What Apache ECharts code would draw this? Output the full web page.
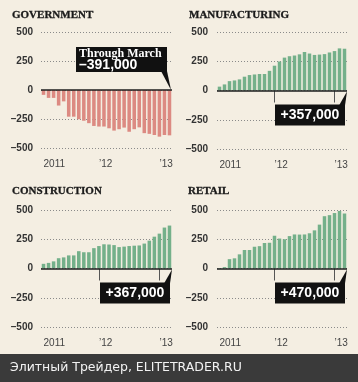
<!DOCTYPE html>
<html><head><meta charset="utf-8">
<script src="https://cdn.jsdelivr.net/npm/echarts@6/dist/echarts.min.js"></script>
<style>html,body{margin:0;padding:0;background:#f4eee2}#c{width:358px;height:382px}</style>
</head><body><div id="c"></div><script>
// ---- data (thousands of jobs, cumulative change since Jan 2011) ----
const months = ['2011-02','2011-03','2011-04','2011-05','2011-06','2011-07','2011-08','2011-09','2011-10','2011-11','2011-12',
  '2012-01','2012-02','2012-03','2012-04','2012-05','2012-06','2012-07','2012-08','2012-09','2012-10','2012-11','2012-12',
  '2013-01','2013-02','2013-03'];
const government = [-42,-68,-68,-134,-98,-230,-230,-252,-265,-286,-310,-315,-315,-330,-350,-338,-324,-360,-338,-322,-372,-378,-388,-402,-388,-391];
const manufacturing = [33,52,80,86,95,118,132,137,141,141,168,212,248,281,293,299,309,329,316,304,307,311,325,337,360,357];
const construction = [40,48,61,88,95,112,112,148,139,139,174,192,207,205,200,183,187,192,195,197,213,238,272,298,350,367];
const retail = [4,12,80,87,121,158,158,186,191,218,220,280,256,250,277,291,290,291,301,326,375,447,456,474,492,470];
const titles = ['GOVERNMENT','MANUFACTURING','CONSTRUCTION','RETAIL'];
const yearLabels = {'2011-02':'2011','2012-01':'\u201912','2013-01':'\u201913'};
const yearTicks = ['2012-01','2013-01'];
const yTickValues = [-500,-250,0,250,500];
const calloutHeads = ['Through March','','',''];
const footerText = 'Элитный Трейдер, ELITETRADER.RU';

// ---- layout / style ----
const seriesData = [government, manufacturing, construction, retail];
const barColors = ['#dc8a82','#74b08a','#74b08a','#74b08a'];
const gridBoxes = [
  {left:41, top:32, width:131, height:116},
  {left:217, top:32, width:130, height:117},
  {left:41, top:210, width:131, height:117},
  {left:217, top:210, width:130, height:117}
];
const titlePos = [{left:12, top:10},{left:189, top:10},{left:12, top:186},{left:188, top:186}];

const fmtY = v => v < 0 ? '\u2013' + Math.abs(v) : String(v);
const fmtCallout = v => (v < 0 ? '\u2013' : '+') + Math.abs(v * 1000).toLocaleString('en-US');

const chart = echarts.init(document.getElementById('c'), null, {renderer:'canvas'});
const option = {
  backgroundColor: '#f4eee2',
  animation: false,
  title: titles.map((t, i) => ({
    text: t, left: titlePos[i].left, top: titlePos[i].top, padding: 0,
    textStyle: {fontFamily: 'Liberation Serif', fontWeight: 'bold', fontSize: 11, color: '#1a1a1a',
      textBorderColor: '#1a1a1a', textBorderWidth: 0.3}
  })),
  grid: gridBoxes,
  xAxis: gridBoxes.map((g, i) => ({
    type: 'category', gridIndex: i, data: months,
    axisLine: {show: false},
    axisTick: {show: true, alignWithLabel: true, length: 12,
      interval: (idx, val) => yearTicks.includes(val),
      lineStyle: {color: '#555', width: 1}},
    axisLabel: {interval: (idx, val) => val in yearLabels, formatter: v => yearLabels[v] || '',
      align: 'left', margin: 11, fontFamily: 'Liberation Sans', fontSize: 10, color: '#444'},
    splitLine: {show: false}
  })),
  yAxis: gridBoxes.map((g, i) => ({
    type: 'value', gridIndex: i, min: yTickValues[0], max: yTickValues[yTickValues.length-1],
    interval: yTickValues[1] - yTickValues[0],
    axisLine: {show: false}, axisTick: {show: false},
    axisLabel: {formatter: fmtY, margin: i % 2 ? 9 : 8, fontFamily: 'Liberation Sans', fontWeight: 'bold', fontSize: 10, color: '#333'},
    splitLine: {show: true, lineStyle: {type: [1, 2], color: '#8a8a8a', width: 1}}
  })),
  series: seriesData.map((d, i) => ({
    type: 'bar', xAxisIndex: i, yAxisIndex: i, data: d,
    barCategoryGap: '30%',
    itemStyle: {color: barColors[i]},
    markLine: {silent: true, symbol: 'none', label: {show: false},
      lineStyle: {color: '#1e1e1e', type: 'solid', width: 1.5},
      data: [{yAxis: 0}]}
  }))
};
chart.setOption(option);

// ---- callouts anchored on the last bar via the library's scales ----
const graphics = [];
seriesData.forEach((d, i) => {
  const last = d.length - 1;
  const v = d[last];
  const p0 = chart.convertToPixel({seriesIndex: i}, [last, 0]);
  const p1 = chart.convertToPixel({seriesIndex: i}, [last - 1, 0]);
  const band = p0[0] - p1[0];
  const ax = p0[0] + band / 2, ay = p0[1];
  if (v < 0) {
    const L = ax - 96, R = ax - 5, T = ay - 43, B = ay - 18;
    graphics.push({type:'rect', shape:{x:L, y:T, width:R-L, height:B-T}, style:{fill:'#111'}});
    graphics.push({type:'polygon', shape:{points:[[R-6,B-1],[R,B-1],[ax-1,ay]]}, style:{fill:'#111'}});
    graphics.push({type:'text', x:L+3, y:T+6.5, style:{text:calloutHeads[i], fill:'#fff', font:'bold 12px "Liberation Serif"', verticalAlign:'middle'}});
    graphics.push({type:'text', x:L+3, y:T+18.5, style:{text:fmtCallout(v), fill:'#fff', font:'bold 14px "Liberation Sans"', verticalAlign:'middle'}});
  } else {
    const L = ax - 72, R = ax - 2, T = ay + 14, B = ay + 35;
    graphics.push({type:'rect', shape:{x:L, y:T, width:R-L, height:B-T}, style:{fill:'#111'}});
    graphics.push({type:'polygon', shape:{points:[[R-6,T+1],[R,T+1],[ax,ay+1]]}, style:{fill:'#111'}});
    graphics.push({type:'text', x:(L+R)/2, y:(T+B)/2+0.5, style:{text:fmtCallout(v), fill:'#fff', font:'bold 14px "Liberation Sans"', align:'center', verticalAlign:'middle'}});
  }
});
graphics.push({type:'rect', shape:{x:0, y:354, width:358, height:28}, style:{fill:'#3a3a3a'}});
graphics.push({type:'text', x:10, y:368, style:{text:footerText, fill:'#f2f2f2', font:'12.5px "DejaVu Sans"', verticalAlign:'middle'}});
chart.setOption({graphic: graphics});
</script></body></html>
